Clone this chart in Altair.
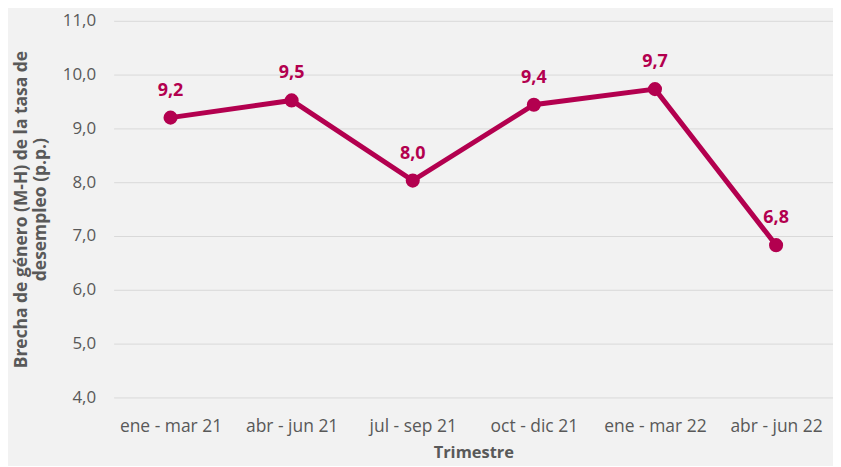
import altair as alt
import pandas as pd

trimestres = ["ene - mar 21", "abr - jun 21", "jul - sep 21", "oct - dic 21", "ene - mar 22", "abr - jun 22"]
brecha = [9.2, 9.52, 8.03, 9.44, 9.73, 6.83]

df = pd.DataFrame({"trimestre": trimestres, "brecha": brecha})

COLOR = "#B3004F"
FONT = "Open Sans"

x = alt.X("trimestre:N", sort=trimestres,
          scale=alt.Scale(type="point", padding=0.47),
          axis=alt.Axis(title="Trimestre", labelAngle=0, ticks=False, domain=False,
                        labelPadding=20, titlePadding=10, labelFontSize=17.5,
                        titleFontSize=16.5, titleFontWeight="bold", grid=False))
y = alt.Y("brecha:Q",
          scale=alt.Scale(domain=[4, 11], nice=False, zero=False),
          axis=alt.Axis(title=["Brecha de género (M-H) de la tasa de", "desempleo (p.p.)"],
                        values=[4, 5, 6, 7, 8, 9, 10, 11],
                        labelExpr="replace(format(datum.value, '.1f'), '.', ',')",
                        ticks=False, domain=False, labelPadding=18, titlePadding=13,
                        labelFontSize=17, titleFontSize=17.5, titleFontWeight="bold",
                        titleLineHeight=19,
                        gridColor="#D9D9D9", gridWidth=1))

base = alt.Chart(df).encode(x=x, y=y)

line = base.mark_line(color=COLOR, strokeWidth=5)
pts = base.mark_point(color=COLOR, filled=True, opacity=1, size=200)
labels = base.mark_text(color=COLOR, fontWeight="bold", fontSize=18, dy=-27, font=FONT).transform_calculate(
    lab="replace(format(datum.brecha, '.1f'), '.', ',')"
).encode(text="lab:N")

chart = (line + pts + labels).properties(
    width=722, height=378,
    autosize=alt.AutoSizeParams(type="none"),
    padding={"left": 106, "top": 12, "right": 0, "bottom": 68},
    background="#F2F2F2",
).configure_view(stroke=None).configure_axis(
    labelFont=FONT, titleFont=FONT, labelColor="#595959", titleColor="#595959"
)

chart.save("out.html", embed_options={"renderer": "svg", "actions": False})
